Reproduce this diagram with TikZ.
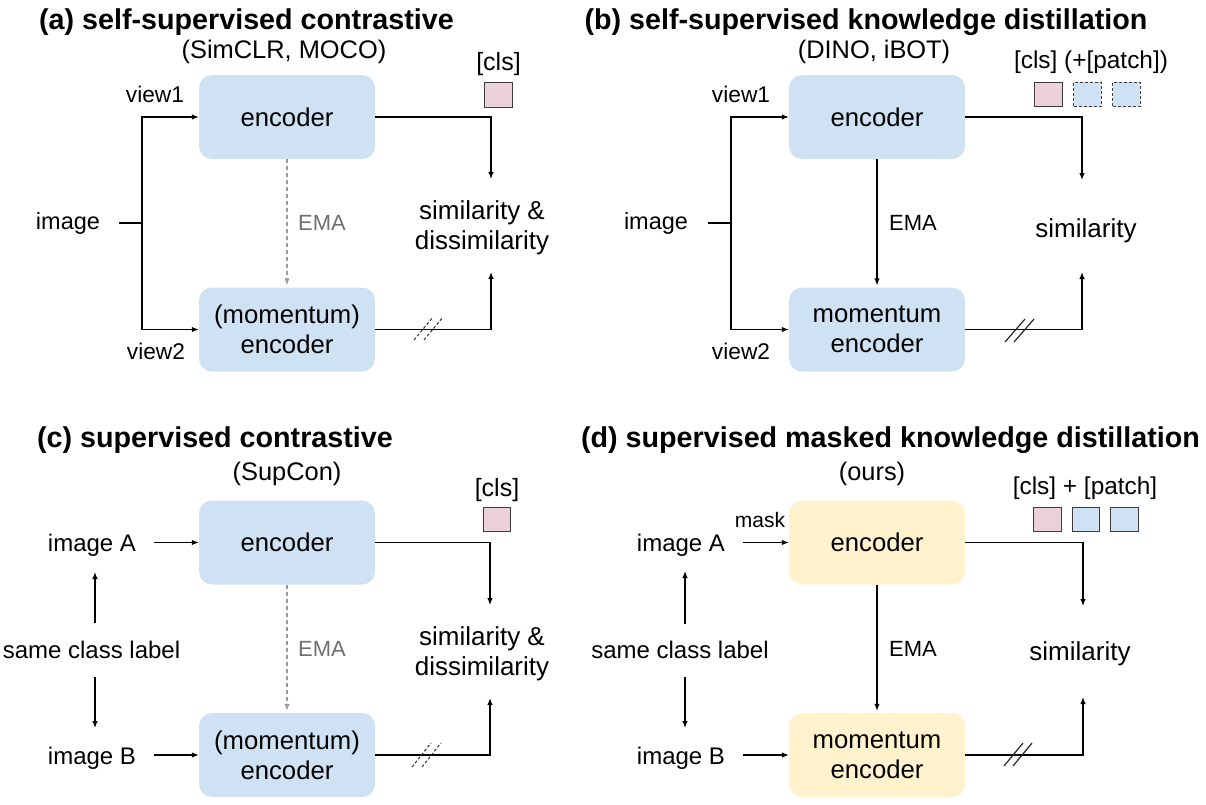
\documentclass[tikz,border=0pt]{standalone}
\usepackage{fontspec}
\setmainfont{Liberation Sans}
\usetikzlibrary{arrows.meta}
\definecolor{blueF}{HTML}{CFE2F3}
\definecolor{yellowF}{HTML}{FFF2CC}
\definecolor{pinkF}{HTML}{EAD1DC}
\definecolor{emagray}{HTML}{6F6F6F}
\definecolor{dashgray}{HTML}{9A9A9A}
\definecolor{edgec}{HTML}{3C3C3C}
\begin{document}
\begin{tikzpicture}[x=1pt,y=-1pt,
  bigbox/.style={rounded corners=13pt, minimum width=176pt, minimum height=84pt, inner sep=0pt, align=center, font=\fontsize{25.7}{30}\selectfont},
  lbl/.style={inner sep=0pt, font=\fontsize{24}{30}\selectfont},
  smalllbl/.style={inner sep=0pt, font=\fontsize{22.7}{28}\selectfont},
  simlbl/.style={inner sep=0pt, align=center, font=\fontsize{26}{30}\selectfont},
  ttl/.style={anchor=base, inner sep=0pt, font=\fontsize{28.7}{32}\selectfont\bfseries},
  sub/.style={anchor=base, inner sep=0pt, font=\fontsize{25.4}{30}\selectfont},
  tok/.style={draw=edgec, line width=1.3pt, minimum width=27.5pt, minimum height=24.5pt, inner sep=0pt},
  tokdash/.style={tok, dash pattern=on 3pt off 2pt},
  conn/.style={line width=1.2pt, draw=black},
  arr/.style={conn, -{Latex[length=7pt,width=5.5pt]}},
  emaarr/.style={line width=1.2pt, draw=dashgray, dash pattern=on 4pt off 3pt, -{Latex[length=7pt,width=5.5pt]}, shorten >=2pt},
  slashd/.style={line width=1pt, draw=black!80, dash pattern=on 3pt off 2pt},
  slashs/.style={line width=1.2pt, draw=black!85},
]
\useasboundingbox (0,0) rectangle (1206,804);

% ================= (a) =================
\node[ttl] (a-title) at (246.5,29) {(a) self-supervised contrastive};
\node[sub] (a-sub) at (284,58.5) {(SimCLR, MOCO)};
\node[bigbox, fill=blueF] (a-enc) at (287,117) {encoder};
\node[bigbox, fill=blueF] (a-mom) at (287,329.5) {(momentum)\\encoder};
\node[lbl, font=\fontsize{23.5}{28}\selectfont] (a-img) at (68,223) {image};
\node[smalllbl, anchor=base] (a-v1) at (155,102) {view1};
\node[smalllbl, anchor=base] (a-v2) at (156,359) {view2};
\node[lbl, anchor=base, text=emagray, font=\fontsize{22}{28}\selectfont] (a-ema) at (322,230) {EMA};
\node[simlbl] (a-sim) at (482,228) {similarity \&\\dissimilarity};
\node[lbl, anchor=base, font=\fontsize{25}{30}\selectfont] (a-cls) at (498.5,70) {[cls]};
\node[tok, fill=pinkF] (a-t1) at (498.5,95) {};
\coordinate (a-in) at (119,223);
\coordinate (a-split) at (142,223);
\coordinate (a-st) at (491,179);
\coordinate (a-sb) at (491,272);
\draw[conn] (a-in) -- (a-split);
\draw[arr] (a-split) |- (a-enc.west);
\draw[arr] (a-split) |- (a-mom.west);
\draw[arr] (a-enc.east) -| (a-st);
\draw[arr] (a-mom.east) -| (a-sb);
\draw[emaarr] (a-enc.south) -- (a-mom.north);
\draw[slashd] (414,340) -- (433,317);
\draw[slashd] (424,340) -- (443,317);

% ================= (b) =================
\node[ttl] (b-title) at (866,29) {(b) self-supervised knowledge distillation};
\node[sub] (b-sub) at (874,58.5) {(DINO, iBOT)};
\node[bigbox, fill=blueF] (b-enc) at (877,117) {encoder};
\node[bigbox, fill=blueF] (b-mom) at (877,329.5) {momentum\\encoder};
\node[lbl, font=\fontsize{23.5}{28}\selectfont] (b-img) at (656,223) {image};
\node[smalllbl, anchor=base] (b-v1) at (741,102) {view1};
\node[smalllbl, anchor=base] (b-v2) at (741,359) {view2};
\node[lbl, anchor=base, font=\fontsize{22}{28}\selectfont] (b-ema) at (913,230) {EMA};
\node[simlbl, anchor=base] (b-sim) at (1086,237) {similarity};
\node[lbl, anchor=base, font=\fontsize{24.4}{30}\selectfont] (b-cls) at (1091,68) {[cls] (+[patch])};
\node[tok, fill=pinkF] (b-t1) at (1048.5,94.5) {};
\node[tokdash, fill=blueF] (b-t2) at (1087.5,94.5) {};
\node[tokdash, fill=blueF] (b-t3) at (1126.5,94.5) {};
\coordinate (b-in) at (708,223);
\coordinate (b-split) at (731,223);
\coordinate (b-st) at (1082,180);
\coordinate (b-sb) at (1082,272);
\draw[conn] (b-in) -- (b-split);
\draw[arr] (b-split) |- (b-enc.west);
\draw[arr] (b-split) |- (b-mom.west);
\draw[arr] (b-enc.east) -| (b-st);
\draw[arr] (b-mom.east) -| (b-sb);
\draw[arr, shorten >=2pt] (b-enc.south) -- (b-mom.north);
\draw[slashs] (1005,342) -- (1025,319);
\draw[slashs] (1014,342) -- (1034,319);

% ================= (c) =================
\node[ttl] (c-title) at (215,447) {(c) supervised contrastive};
\node[sub] (c-sub) at (287,480) {(SupCon)};
\node[bigbox, fill=blueF] (c-enc) at (287,542.5) {encoder};
\node[bigbox, fill=blueF] (c-mom) at (287,755) {(momentum)\\encoder};
\node[lbl, anchor=base] (c-imA) at (92,551) {image A};
\node[lbl, anchor=base] (c-imB) at (92,764) {image B};
\node[lbl, anchor=base] (c-same) at (91.5,658) {same class label};
\node[lbl, anchor=base, text=emagray, font=\fontsize{22}{28}\selectfont] (c-ema) at (322,656) {EMA};
\node[simlbl] (c-sim) at (482,654) {similarity \&\\dissimilarity};
\node[lbl, anchor=base, font=\fontsize{25}{30}\selectfont] (c-cls) at (497,496) {[cls]};
\node[tok, fill=pinkF] (c-t1) at (497,519.5) {};
\coordinate (c-ain) at (154,542.5);
\coordinate (c-bin) at (154,755);
\coordinate (c-u1) at (95,623);
\coordinate (c-u2) at (95,572);
\coordinate (c-d1) at (95,677);
\coordinate (c-d2) at (95,728);
\coordinate (c-st) at (490,605);
\coordinate (c-sb) at (490,698);
\draw[arr] (c-ain) -- (c-enc.west);
\draw[arr] (c-bin) -- (c-mom.west);
\draw[arr] (c-u1) -- (c-u2);
\draw[arr] (c-d1) -- (c-d2);
\draw[arr] (c-enc.east) -| (c-st);
\draw[arr] (c-mom.east) -| (c-sb);
\draw[emaarr] (c-enc.south) -- (c-mom.north);
\draw[slashd] (412,767) -- (431,743);
\draw[slashd] (422,767) -- (441,743);

% ================= (d) =================
\node[ttl] (d-title) at (890.5,447) {(d) supervised masked knowledge distillation};
\node[sub] (d-sub) at (872,480) {(ours)};
\node[bigbox, fill=yellowF] (d-enc) at (877,542.5) {encoder};
\node[bigbox, fill=yellowF] (d-mom) at (877,755) {momentum\\encoder};
\node[lbl, anchor=base] (d-imA) at (681,551) {image A};
\node[lbl, anchor=base] (d-imB) at (681,764) {image B};
\node[lbl, anchor=base] (d-same) at (680,658) {same class label};
\node[lbl, anchor=base, font=\fontsize{21}{26}\selectfont] (d-mask) at (760,527) {mask};
\node[lbl, anchor=base, font=\fontsize{22}{28}\selectfont] (d-ema) at (913,656) {EMA};
\node[simlbl, anchor=base] (d-sim) at (1080,660) {similarity};
\node[lbl, anchor=base, font=\fontsize{24.4}{30}\selectfont] (d-cls) at (1085,494) {[cls] + [patch]};
\node[tok, fill=pinkF] (d-t1) at (1047.5,519.5) {};
\node[tok, fill=blueF] (d-t2) at (1086,519.5) {};
\node[tok, fill=blueF] (d-t3) at (1124.5,519.5) {};
\coordinate (d-ain) at (743,542.5);
\coordinate (d-bin) at (743,755);
\coordinate (d-u1) at (685,624);
\coordinate (d-u2) at (685,571);
\coordinate (d-d1) at (685,677);
\coordinate (d-d2) at (685,728);
\coordinate (d-st) at (1083,606);
\coordinate (d-sb) at (1083,697);
\draw[arr] (d-ain) -- (d-enc.west);
\draw[arr] (d-bin) -- (d-mom.west);
\draw[arr] (d-u1) -- (d-u2);
\draw[arr] (d-d1) -- (d-d2);
\draw[arr] (d-enc.east) -| (d-st);
\draw[arr] (d-mom.east) -| (d-sb);
\draw[arr, shorten >=2pt] (d-enc.south) -- (d-mom.north);
\draw[slashs] (1004,766) -- (1023,743);
\draw[slashs] (1013,766) -- (1032,743);
\end{tikzpicture}
\end{document}
